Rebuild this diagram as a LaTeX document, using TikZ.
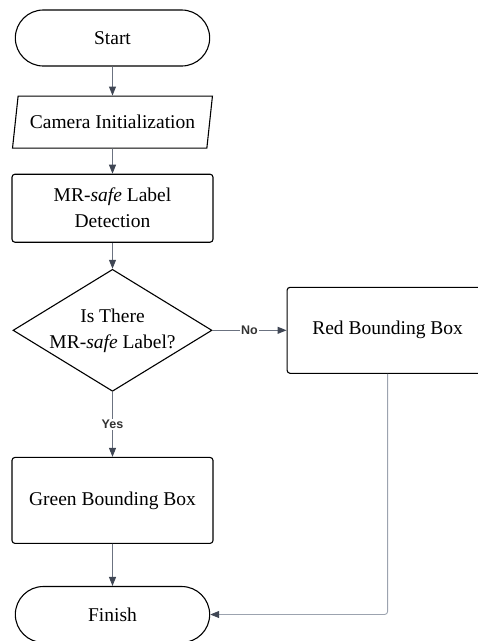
\documentclass[tikz,border=0pt]{standalone}
\usepackage{fontspec}
\setmainfont{Liberation Serif}
\newfontfamily\answerfont{Liberation Sans}
\usetikzlibrary{shapes.geometric, shapes.misc, arrows.meta, positioning}
\definecolor{flowline}{HTML}{6B7280}
\definecolor{flowtip}{HTML}{3F4654}
\definecolor{returnline}{HTML}{9CA3AF}

\begin{document}
\begin{tikzpicture}[x=1pt, y=1pt,
  every node/.style={font=\fontsize{19.5}{26}\selectfont, align=center},
  terminal/.style={draw, line width=1.1pt, rounded rectangle, minimum width=201pt, minimum height=56pt},
  iobox/.style={draw, line width=1.1pt, trapezium, trapezium left angle=76, trapezium right angle=104, trapezium stretches=true, minimum width=200pt, minimum height=52pt},
  process/.style={draw, line width=1.1pt, rounded corners=3pt, minimum width=201pt},
  decision/.style={draw, line width=1.1pt, diamond, aspect=1.63, inner sep=0pt, minimum width=199pt, minimum height=122pt},
  flow/.style={draw=flowline, line width=0.9pt, -{Triangle[length=9pt, width=7pt, color=flowtip]}},
  answer/.style={font=\answerfont\bfseries\fontsize{12.5}{13}\selectfont, text=black!80, fill=white, inner sep=1.5pt}]
  \useasboundingbox (0,0) rectangle (478,-641);
  \node[terminal] (start) at (112.5,-38) {Start};
  \node[iobox, below=29pt of start] (camera) {Camera Initialization};
  \node[process, minimum height=68pt, below=25pt of camera] (detect) {MR-\textit{safe} Label\\Detection};
  \node[decision, below=26pt of detect] (check) {Is There\\MR-\textit{safe} Label?};
  \node[process, minimum height=86pt, right=74pt of check] (red) {Red Bounding Box};
  \node[process, minimum height=86pt, below=65pt of check] (green) {Green Bounding Box};
  \node[terminal, below=42pt of green] (finish) {Finish};
  % connectors
  \draw[flow] (start) -- (camera);
  \draw[flow] (camera) -- (detect);
  \draw[flow] (detect) -- (check);
  \draw[flow] (check) -- node[answer] {No} (red);
  \draw[flow] (check) -- node[answer] {Yes} (green);
  \draw[flow] (green) -- (finish);
  \draw[flow, draw=returnline, rounded corners=3pt] (red) |- (finish);
\end{tikzpicture}
\end{document}
